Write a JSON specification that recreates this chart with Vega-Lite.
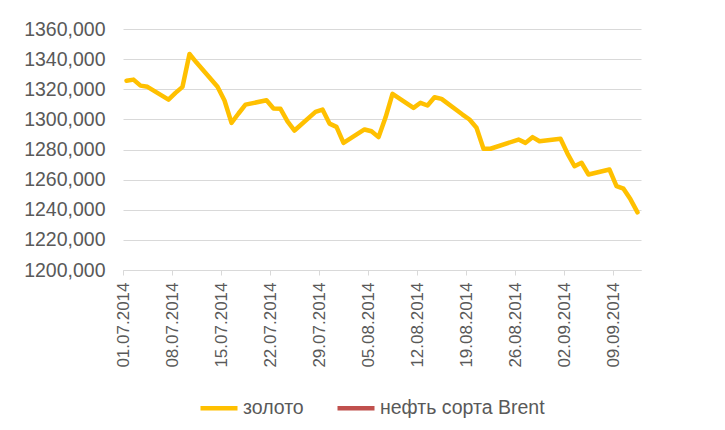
{
  "$schema": "https://vega.github.io/schema/vega-lite/v6.json",
  "width": 518,
  "height": 241,
  "autosize": {"type": "none"},
  "padding": {"left": 123, "top": 29, "right": 84, "bottom": 160},
  "background": "white",
  "config": {
    "locale": {"number": {"decimal": ",", "thousands": "\u00a0", "grouping": [3], "currency": ["", ""]}},
    "view": {"stroke": null},
    "font": "Liberation Sans"
  },
  "data": {
    "values": [
      {"date": "2014-07-01T12:00:00", "series": "золото", "price": 1325.7},
      {"date": "2014-07-02T12:00:00", "series": "золото", "price": 1326.4},
      {"date": "2014-07-03T12:00:00", "series": "золото", "price": 1322.4},
      {"date": "2014-07-04T12:00:00", "series": "золото", "price": 1321.6},
      {"date": "2014-07-07T12:00:00", "series": "золото", "price": 1313.1},
      {"date": "2014-07-08T12:00:00", "series": "золото", "price": 1317.6},
      {"date": "2014-07-09T12:00:00", "series": "золото", "price": 1321.6},
      {"date": "2014-07-10T12:00:00", "series": "золото", "price": 1343.4},
      {"date": "2014-07-11T12:00:00", "series": "золото", "price": 1337.7},
      {"date": "2014-07-14T12:00:00", "series": "золото", "price": 1321.6},
      {"date": "2014-07-15T12:00:00", "series": "золото", "price": 1312.5},
      {"date": "2014-07-16T12:00:00", "series": "золото", "price": 1297.7},
      {"date": "2014-07-17T12:00:00", "series": "золото", "price": 1303.9},
      {"date": "2014-07-18T12:00:00", "series": "золото", "price": 1309.8},
      {"date": "2014-07-21T12:00:00", "series": "золото", "price": 1312.7},
      {"date": "2014-07-22T12:00:00", "series": "золото", "price": 1307.2},
      {"date": "2014-07-23T12:00:00", "series": "золото", "price": 1307.0},
      {"date": "2014-07-24T12:00:00", "series": "золото", "price": 1298.7},
      {"date": "2014-07-25T12:00:00", "series": "золото", "price": 1292.6},
      {"date": "2014-07-28T12:00:00", "series": "золото", "price": 1305.0},
      {"date": "2014-07-29T12:00:00", "series": "золото", "price": 1306.5},
      {"date": "2014-07-30T12:00:00", "series": "золото", "price": 1297.2},
      {"date": "2014-07-31T12:00:00", "series": "золото", "price": 1295.0},
      {"date": "2014-08-01T12:00:00", "series": "золото", "price": 1284.4},
      {"date": "2014-08-04T12:00:00", "series": "золото", "price": 1293.3},
      {"date": "2014-08-05T12:00:00", "series": "золото", "price": 1292.1},
      {"date": "2014-08-06T12:00:00", "series": "золото", "price": 1288.2},
      {"date": "2014-08-07T12:00:00", "series": "золото", "price": 1301.2},
      {"date": "2014-08-08T12:00:00", "series": "золото", "price": 1316.9},
      {"date": "2014-08-11T12:00:00", "series": "золото", "price": 1307.6},
      {"date": "2014-08-12T12:00:00", "series": "золото", "price": 1311.0},
      {"date": "2014-08-13T12:00:00", "series": "золото", "price": 1309.2},
      {"date": "2014-08-14T12:00:00", "series": "золото", "price": 1314.7},
      {"date": "2014-08-15T12:00:00", "series": "золото", "price": 1313.6},
      {"date": "2014-08-18T12:00:00", "series": "золото", "price": 1303.2},
      {"date": "2014-08-19T12:00:00", "series": "золото", "price": 1299.9},
      {"date": "2014-08-20T12:00:00", "series": "золото", "price": 1294.4},
      {"date": "2014-08-21T12:00:00", "series": "золото", "price": 1280.5},
      {"date": "2014-08-22T12:00:00", "series": "золото", "price": 1280.5},
      {"date": "2014-08-26T12:00:00", "series": "золото", "price": 1286.6},
      {"date": "2014-08-27T12:00:00", "series": "золото", "price": 1284.4},
      {"date": "2014-08-28T12:00:00", "series": "золото", "price": 1288.2},
      {"date": "2014-08-29T12:00:00", "series": "золото", "price": 1285.5},
      {"date": "2014-09-01T12:00:00", "series": "золото", "price": 1287.1},
      {"date": "2014-09-02T12:00:00", "series": "золото", "price": 1277.3},
      {"date": "2014-09-03T12:00:00", "series": "золото", "price": 1268.9},
      {"date": "2014-09-04T12:00:00", "series": "золото", "price": 1271.2},
      {"date": "2014-09-05T12:00:00", "series": "золото", "price": 1263.4},
      {"date": "2014-09-08T12:00:00", "series": "золото", "price": 1266.7},
      {"date": "2014-09-09T12:00:00", "series": "золото", "price": 1255.7},
      {"date": "2014-09-10T12:00:00", "series": "золото", "price": 1254.0},
      {"date": "2014-09-11T12:00:00", "series": "золото", "price": 1246.9},
      {"date": "2014-09-12T12:00:00", "series": "золото", "price": 1238.3}
    ]
  },
  "mark": {"type": "line", "strokeWidth": 4.5, "strokeJoin": "round", "strokeCap": "round"},
  "encoding": {
    "x": {
      "field": "date",
      "type": "temporal",
      "scale": {
        "domain": [
          {"year": 2014, "month": 7, "date": 1},
          {"year": 2014, "month": 9, "date": 13}
        ]
      },
      "axis": {
        "title": null,
        "values": [
          {"year": 2014, "month": 7, "date": 1},
          {"year": 2014, "month": 7, "date": 8},
          {"year": 2014, "month": 7, "date": 15},
          {"year": 2014, "month": 7, "date": 22},
          {"year": 2014, "month": 7, "date": 29},
          {"year": 2014, "month": 8, "date": 5},
          {"year": 2014, "month": 8, "date": 12},
          {"year": 2014, "month": 8, "date": 19},
          {"year": 2014, "month": 8, "date": 26},
          {"year": 2014, "month": 9, "date": 2},
          {"year": 2014, "month": 9, "date": 9}
        ],
        "format": "%d.%m.%Y",
        "labelAngle": -90,
        "labelAlign": "right",
        "labelBaseline": "middle",
        "labelFontSize": 17,
        "labelColor": "#595959",
        "labelPadding": 7,
        "labelOverlap": false,
        "labelFlush": false,
        "grid": false,
        "domainColor": "#d9d9d9",
        "tickColor": "#d9d9d9",
        "tickSize": 5
      }
    },
    "y": {
      "field": "price",
      "type": "quantitative",
      "scale": {"domain": [1200, 1360], "nice": false, "zero": false},
      "axis": {
        "title": null,
        "values": [1200, 1220, 1240, 1260, 1280, 1300, 1320, 1340, 1360],
        "format": ".3f",
        "labelFontSize": 19.5,
        "labelColor": "#595959",
        "labelPadding": 18,
        "domain": false,
        "ticks": false,
        "gridColor": "#d9d9d9",
        "gridWidth": 1.2
      }
    },
    "color": {
      "field": "series",
      "type": "nominal",
      "scale": {"domain": ["золото", "нефть сорта Brent"], "range": ["#FFC000", "#C0504D"]},
      "legend": {
        "title": null,
        "orient": "none",
        "legendX": 75,
        "legendY": 358,
        "direction": "horizontal",
        "symbolType": "stroke",
        "symbolSize": 1369,
        "symbolStrokeWidth": 4.5,
        "labelFontSize": 19.5,
        "labelLimit": 400,
        "labelColor": "#595959",
        "labelOffset": 3,
        "columnPadding": 24
      }
    }
  }
}
